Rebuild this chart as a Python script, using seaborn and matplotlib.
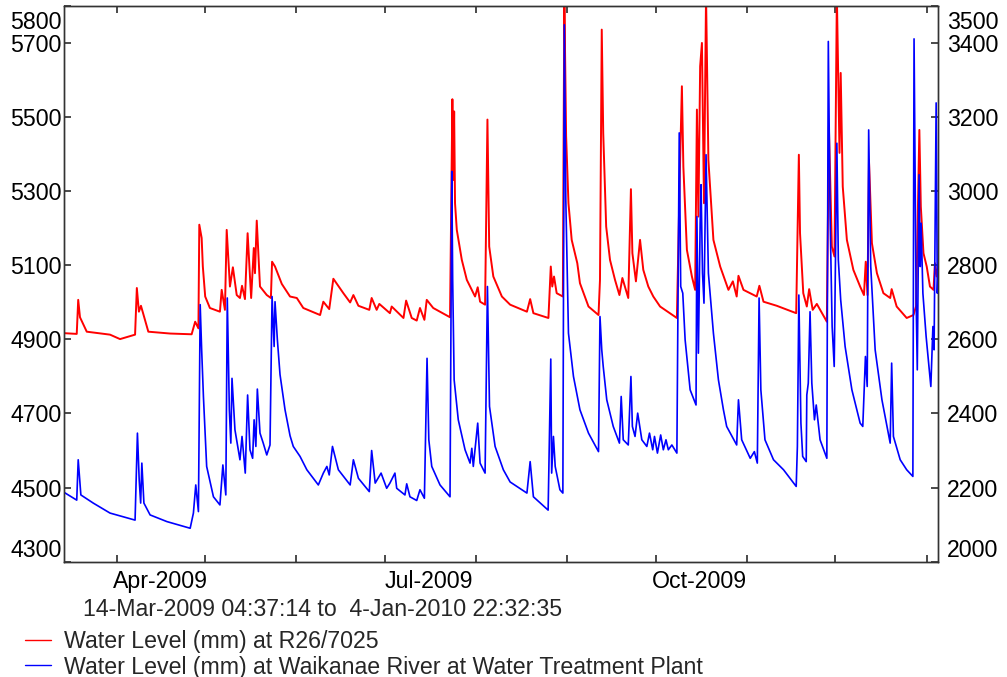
import matplotlib
matplotlib.use("Agg")
import matplotlib.pyplot as plt
import matplotlib.dates as mdates
from matplotlib.ticker import NullFormatter
from matplotlib.lines import Line2D
from matplotlib.transforms import ScaledTranslation
import seaborn as sns
import pandas as pd

# time is given as days since 2009-01-01 00:00
red_day = [72.2, 76.5, 77.0, 77.6, 79.9, 87.8, 91.2, 96.3, 96.9, 97.6, 98.3, 100.8, 108.2,
           115.5, 116.7, 117.8, 118.1, 118.9, 119.3, 120.1, 121.7, 125.1, 125.7, 126.8, 127.4,
           128.5, 129.5, 130.8, 131.9, 132.6, 133.6, 134.5, 135.7, 136.6, 137.0, 137.6, 138.7,
           141.0, 142.4, 142.8, 143.8, 146.1, 148.9, 151.2, 153.4, 159.1, 160.2, 162.2, 163.6,
           167.0, 169.3, 170.4, 172.1, 175.8, 176.6, 178.3, 179.2, 182.8, 183.4, 187.4, 188.3,
           190.2, 191.9, 193.0, 194.5, 195.3, 197.5, 203.2, 204.0, 204.3, 204.6, 204.9, 205.5,
           207.2, 208.9, 211.7, 212.6, 213.4, 215.1, 215.9, 216.5, 217.9, 220.8, 223.6, 229.3,
           230.4, 231.5, 236.6, 237.4, 237.9, 238.5, 239.4, 241.5, 242.0, 242.6, 243.4, 244.5,
           246.4, 247.3, 250.2, 253.6, 254.1, 254.7, 255.2, 256.2, 257.5, 259.2, 260.7, 261.7,
           263.7, 264.6, 265.1, 266.3, 267.7, 268.8, 270.5, 272.2, 274.5, 280.2, 281.3, 281.9,
           282.4, 283.6, 285.3, 286.4, 287.0, 287.5, 288.1, 288.7, 289.4, 290.1, 290.9, 292.6,
           294.9, 297.7, 299.2, 300.5, 301.1, 302.8, 307.3, 308.2, 309.6, 314.1, 320.7, 321.6,
           322.0, 323.1, 324.3, 325.1, 326.3, 327.7, 331.1, 331.8, 332.8, 333.7, 334.5, 335.4,
           335.8, 336.5, 337.9, 340.1, 342.4, 343.7, 344.3, 344.9, 345.4, 346.4, 348.1, 350.3,
           352.6, 353.1, 354.8, 358.2, 360.5, 361.4, 362.5, 363.0, 363.9, 365.0, 366.1, 367.3,
           367.8, 368.4, 368.9]
red_mm = [4917, 4915, 5007, 4960, 4921, 4913, 4901, 4913, 5039, 4975, 4991, 4921, 4916,
          4914, 4948, 4930, 5210, 5174, 5097, 5016, 4985, 4975, 5034, 4980, 5196,
          5043, 5095, 5020, 5012, 5045, 5009, 5187, 5012, 5147, 5079, 5221, 5043,
          5020, 5012, 5110, 5097, 5050, 5016, 5012, 4985, 4966, 5002, 4982, 5064,
          5025, 5000, 5020, 4991, 4980, 5012, 4980, 4996, 4971, 4989, 4958, 5005,
          4958, 4951, 4985, 4953, 5007, 4985, 4960, 5549, 5331, 5516, 5268, 5196,
          5115, 5061, 5016, 5041, 5002, 4994, 5494, 5151, 5070, 5016, 4994, 4975,
          5009, 4971, 4958, 5097, 5043, 5070, 5025, 5016, 5830, 5450, 5268, 5169,
          5106, 5052, 4989, 4966, 5061, 5737, 5458, 5205, 5115, 5061, 5020, 5066,
          5012, 5306, 5133, 5057, 5169, 5088, 5043, 5016, 4989, 4958, 5384, 5584,
          5367, 5142, 5070, 5034, 5521, 5232, 5638, 5701, 5268, 5830, 5384, 5169,
          5097, 5034, 5057, 5016, 5072, 5034, 5016, 5045, 5002, 4991, 4971, 5399,
          5187, 5025, 4989, 5036, 4980, 4996, 4948, 5475, 5151, 5124, 5830, 5404,
          5620, 5313, 5169, 5088, 5043, 5020, 5110, 5020, 5384, 5160, 5079, 5025,
          5012, 5036, 4989, 4958, 4966, 4990, 5466, 5259, 5133, 5097, 5043, 5034,
          5106, 5070, 5097]

blue_day = [72.2, 76.5, 77.0, 77.9, 82.1, 87.8, 96.3, 97.1, 97.7, 98.2, 98.6, 99.3, 101.4,
            107.1, 115.0, 116.1, 116.9, 117.8, 118.4, 118.9, 119.5, 120.6, 122.9, 125.1, 126.1,
            127.1, 127.6, 128.3, 128.8, 129.2, 130.2, 131.9, 132.6, 133.7, 134.5, 135.3, 136.2,
            136.7, 137.3, 137.8, 138.7, 139.8, 141.0, 142.1, 142.8, 143.5, 143.8, 144.6, 145.5,
            147.2, 148.9, 150.0, 152.3, 154.6, 158.5, 160.2, 161.4, 162.2, 163.3, 165.3, 169.3,
            170.4, 172.1, 175.8, 176.6, 177.8, 179.8, 181.7, 182.8, 184.5, 185.1, 187.9, 188.5,
            189.6, 191.9, 193.0, 194.5, 195.4, 196.0, 197.0, 199.8, 203.2, 203.8, 204.1, 204.6,
            206.0, 208.3, 210.0, 210.6, 211.1, 212.6, 213.4, 215.1, 215.9, 216.6, 218.5, 221.3,
            223.6, 229.3, 230.4, 231.5, 236.5, 237.4, 237.7, 238.3, 238.9, 240.5, 241.5, 242.0,
            242.5, 243.4, 245.1, 247.3, 250.2, 253.6, 254.1, 254.7, 255.2, 256.4, 258.6, 260.7,
            261.3, 262.0, 263.7, 264.6, 265.1, 266.0, 266.9, 268.3, 270.0, 270.9, 272.0, 272.6,
            273.6, 274.7, 275.6, 276.5, 277.3, 278.5, 280.2, 281.0, 281.5, 282.2, 283.0, 284.7,
            286.7, 287.0, 287.5, 288.1, 288.4, 288.9, 289.4, 290.1, 290.9, 292.6, 294.3, 296.0,
            297.1, 300.5, 301.1, 302.2, 305.1, 306.5, 307.5, 308.1, 308.7, 310.1, 313.0, 316.4,
            320.7, 321.1, 321.6, 322.3, 322.9, 324.1, 324.3, 324.8, 325.4, 326.0, 326.9, 327.5,
            328.8, 331.1, 331.6, 332.2, 332.9, 333.6, 334.5, 335.0, 335.8, 337.3, 339.6, 342.4,
            343.3, 344.2, 344.8, 345.3, 346.0, 347.5, 349.8, 352.6, 353.1, 353.7, 356.0, 358.2,
            360.3, 360.7, 361.4, 361.8, 362.4, 362.8, 363.1, 363.7, 364.8, 366.4, 367.1, 367.5,
            368.2, 368.6, 368.9]
blue_mm = [2187, 2166, 2275, 2180, 2158, 2131, 2112, 2347, 2221, 2158, 2266, 2158, 2126,
           2108, 2090, 2131, 2207, 2135, 2694, 2572, 2446, 2257, 2175, 2153, 2261,
           2180, 2712, 2410, 2320, 2495, 2356, 2275, 2338, 2239, 2450, 2302, 2279,
           2383, 2311, 2466, 2347, 2320, 2288, 2315, 2716, 2581, 2702, 2599, 2505,
           2410, 2340, 2311, 2284, 2248, 2207, 2239, 2257, 2234, 2311, 2248, 2207,
           2275, 2225, 2189, 2300, 2212, 2239, 2198, 2212, 2239, 2198, 2180, 2210,
           2175, 2165, 2194, 2171, 2549, 2329, 2257, 2207, 2175, 3054, 2761, 2491,
           2383, 2302, 2266, 2306, 2257, 2374, 2266, 2239, 2743, 2419, 2311, 2248,
           2215, 2185, 2270, 2175, 2139, 2547, 2239, 2338, 2257, 2194, 2185, 3450,
           2977, 2617, 2500, 2410, 2347, 2297, 2662, 2572, 2527, 2437, 2365, 2320,
           2446, 2329, 2315, 2500, 2365, 2338, 2401, 2329, 2311, 2347, 2302, 2338,
           2293, 2342, 2302, 2329, 2302, 2315, 2293, 3158, 2743, 2725, 2599, 2464,
           2423, 2932, 2563, 2914, 3018, 2779, 2698, 3099, 2779, 2617, 2491, 2410,
           2365, 2315, 2437, 2329, 2279, 2297, 2266, 2712, 2464, 2329, 2275, 2248,
           2203, 2311, 2720, 2374, 2284, 2270, 2450, 2482, 2675, 2482, 2383, 2423,
           2329, 2279, 3405, 2932, 2635, 2527, 3130, 2815, 2707, 2581, 2464, 2374,
           2365, 2554, 2473, 3166, 2797, 2572, 2437, 2320, 2536, 2338, 2275, 2248,
           2230, 3412, 2707, 2518, 3045, 2797, 2914, 2725, 2608, 2473, 2635, 2572,
           3239, 2725, 2797]

left_ticks = [4300, 4500, 4700, 4900, 5100, 5300, 5500, 5700, 5800]
right_ticks = [2000, 2200, 2400, 2600, 2800, 3000, 3200, 3400, 3500]
month_labels = ["Apr-2009", "Jul-2009", "Oct-2009"]
month_label_dates = ["2009-04-16", "2009-07-16", "2009-10-16"]
series_names = ["Water Level (mm) at R26/7025",
                "Water Level (mm) at Waikanae River at Water Treatment Plant"]
period_text = "14-Mar-2009 04:37:14 to  4-Jan-2010 22:32:35"

base = pd.Timestamp("2009-01-01")
start = pd.Timestamp("2009-03-14 04:37:14")
end = pd.Timestamp("2010-01-04 22:32:35")

red = pd.DataFrame({"time": base + pd.to_timedelta(red_day, unit="D"), "level": red_mm})
blue = pd.DataFrame({"time": base + pd.to_timedelta(blue_day, unit="D"), "level": blue_mm})

sns.set_theme(style="white")
plt.rcParams["font.family"] = ["Liberation Sans", "DejaVu Sans"]
fs = 16.7

fig = plt.figure(figsize=(10.07, 6.77), dpi=100)
ax = fig.add_axes([0.0636, 0.1705, 0.8682, 0.8202])
ax2 = ax.twinx()

sns.lineplot(data=red, x="time", y="level", ax=ax, color="#ff0000", lw=1.4)
sns.lineplot(data=blue, x="time", y="level", ax=ax2, color="#0000ff", lw=1.2)

ax.set_xlim(start, end)
ax.set_ylim(4300, 5800)
ax2.set_ylim(2000, 3500)
ax.set_xlabel("")
ax.set_ylabel("")
ax2.set_ylabel("")

ax.xaxis.set_major_locator(mdates.MonthLocator())
ax.xaxis.set_major_formatter(NullFormatter())
ax.set_xticks(pd.to_datetime(month_label_dates), labels=month_labels, minor=True)
ax.tick_params(axis="x", which="major", direction="in", length=5, top=True, bottom=True,
               color="#333333")
ax.tick_params(axis="x", which="minor", length=0, pad=6, labelsize=fs, labelcolor="black")

ax.set_yticks(left_ticks)
ax2.set_yticks(right_ticks)
ax.tick_params(axis="y", direction="in", length=5, pad=1.5, labelsize=fs, left=True,
               right=False, color="#333333", labelcolor="black")
ax2.tick_params(axis="y", direction="in", length=5, pad=6, labelsize=fs, right=True,
                color="#333333", labelcolor="black")

# keep the edge labels inside the frame
shift_down = ScaledTranslation(0, -5 / 100, fig.dpi_scale_trans)
for a in (ax, ax2):
    labels = a.get_yticklabels()
    labels[0].set_va("bottom")
    labels[-1].set_va("top")
    labels[-1].set_transform(labels[-1].get_transform() + shift_down)

for a in (ax, ax2):
    for s in a.spines.values():
        s.set_color("#333333")
        s.set_linewidth(1)

fig.text(82.7 / 1007, 1 - 609 / 677, period_text, ha="left", va="center", fontsize=fs)

handles = [Line2D([], [], color="#ff0000", lw=1), Line2D([], [], color="#0000ff", lw=1)]
fig.legend(handles, series_names, loc="upper left", bbox_to_anchor=(25 / 1007, 1 - 630 / 677),
           frameon=False, fontsize=fs, handlelength=1.1, handletextpad=0.57,
           labelspacing=0.11, borderpad=0, borderaxespad=0)

fig.savefig("out.png", dpi=100)
